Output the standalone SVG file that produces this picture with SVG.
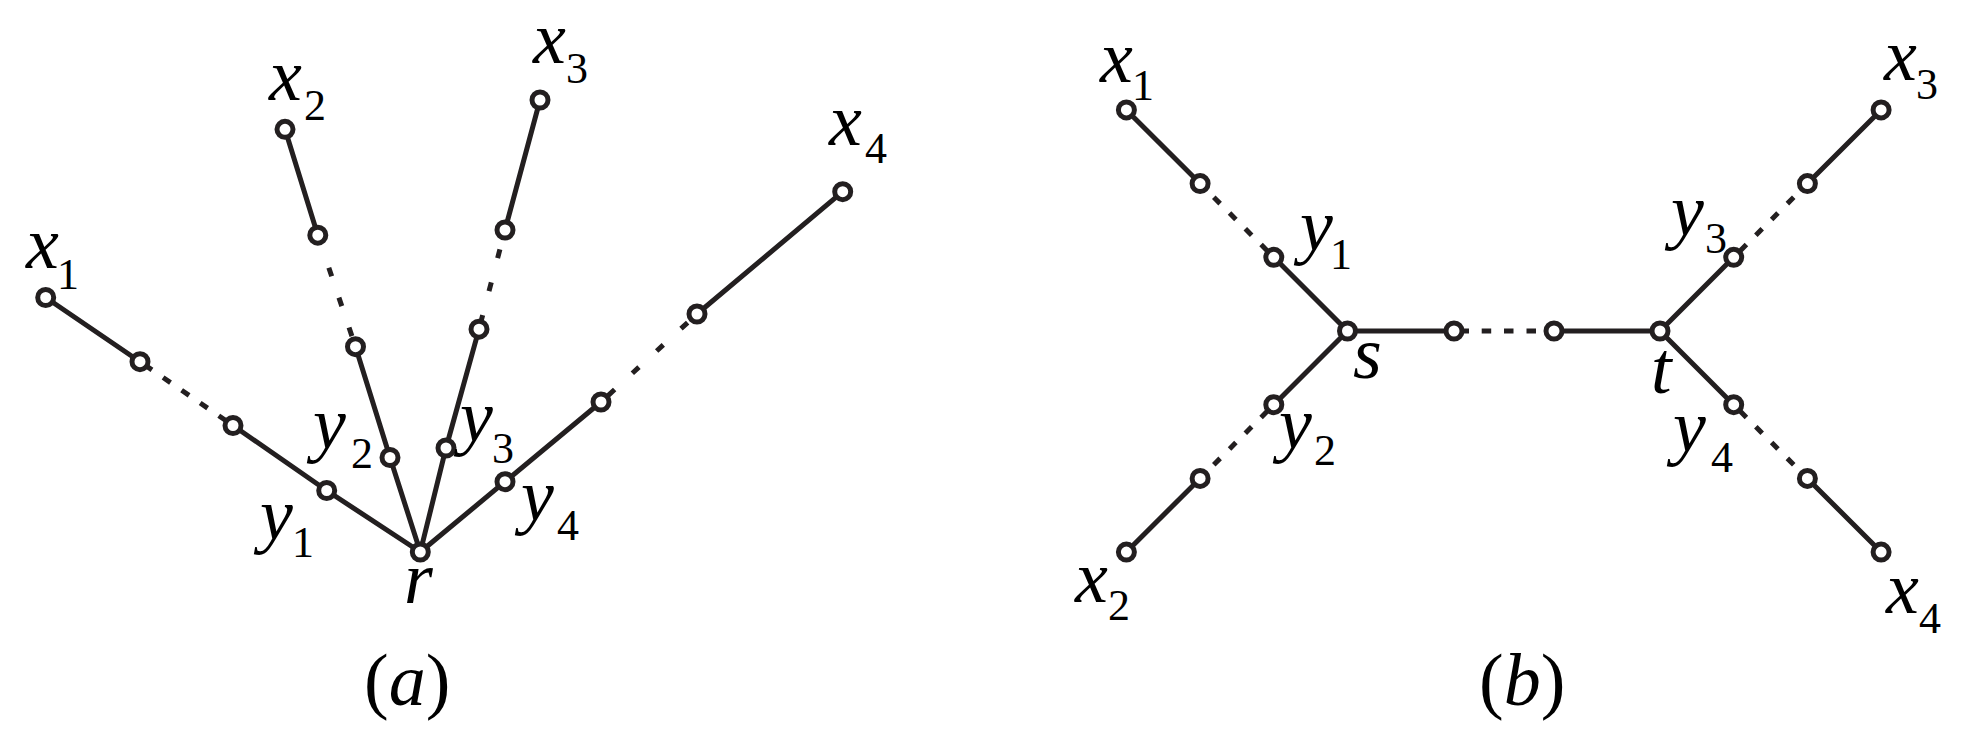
<svg xmlns="http://www.w3.org/2000/svg" width="1968" height="748" viewBox="0 0 1968 748">
<style>
.e{stroke:#231f20;stroke-width:5;fill:none;stroke-linecap:butt}
.n{fill:#fff;stroke:#231f20;stroke-width:5}
.t{font-family:"Liberation Serif","Times New Roman",serif;fill:#000;font-size:74px;font-style:italic}
.s{font-size:44px;font-style:normal}
.c{font-style:normal}
</style>
<rect width="1968" height="748" fill="#fff"/>
<g id="connectors">
<path class="e" d="M45.7,297.5L140,361.7M233,425.5L326.7,490.5L420.3,552M285,129.3L317.8,235.2M355.5,346.7L390,457.5L420.3,552M540,100L505,230M479,329.2L446,448L420.3,552M842.7,191.7L697,314M601,402L505,481.7L420.3,552"/>
<path class="e" d="M144.53,364.81L151.96,369.9M163.09,377.54L170.51,382.63M181.64,390.26L189.06,395.35M200.19,402.99L207.61,408.08M218.74,415.71L226.16,420.81"/>
<path class="e" d="M328.82,267.79L331.7,276.31M338.91,297.63L341.79,306.15M349.03,327.56L351.91,336.09"/>
<path class="e" d="M499.9,249.44L497.62,258.15M491.29,282.33L489,291.04M482.67,315.22L480.38,323.93"/>
<path class="e" d="M608,395.58L614.64,389.5M632.34,373.27L638.97,367.19M656.67,350.97L663.3,344.89M681,328.67L687.63,322.58"/>
<path class="e" d="M1126.4,109.9L1200.1,183.6M1273.8,257.3L1347.5,331L1273.8,404.7M1200.1,478.4L1126.4,552.1M1347.5,331L1454,331M1554,331L1660,331L1733.7,257.3M1807.4,183.6L1881.1,109.9M1660,331L1733.7,404.7M1807.4,478.4L1881.1,552.1"/>
<path class="e" d="M1267.44,250.94L1261.07,244.57M1251.67,235.17L1245.3,228.8M1235.9,219.4L1229.54,213.04M1220.13,203.63L1213.77,197.27"/>
<path class="e" d="M1267.44,411.06L1261.07,417.43M1251.67,426.83L1245.3,433.2M1235.9,442.6L1229.54,448.96M1220.13,458.37L1213.77,464.73"/>
<path class="e" d="M1740.06,250.94L1746.43,244.57M1755.83,235.17L1762.2,228.8M1771.6,219.4L1777.96,213.04M1787.37,203.63L1793.73,197.27"/>
<path class="e" d="M1740.06,411.06L1746.43,417.43M1755.83,426.83L1762.2,433.2M1771.6,442.6L1777.96,448.96M1787.37,458.37L1793.73,464.73"/>
<path class="e" d="M1459.5,331L1469,331M1481.7,331L1491.2,331M1504,331L1513.5,331M1526.5,331L1536,331"/>
</g>
<g id="a-x1"><circle class="n" cx="45.7" cy="297.5" r="8"/><text class="t" x="26" y="268">x<tspan class="s" x="57" y="289">1</tspan></text></g>
<g id="a-p1"><circle class="n" cx="140" cy="361.7" r="8"/></g>
<g id="a-p2"><circle class="n" cx="233" cy="425.5" r="8"/></g>
<g id="a-y1"><circle class="n" cx="326.7" cy="490.5" r="8"/><text class="t" x="260" y="539">y<tspan class="s" x="292" y="557">1</tspan></text></g>
<g id="a-x2"><circle class="n" cx="285" cy="129.3" r="8"/><text class="t" x="269" y="100">x<tspan class="s" x="304" y="120">2</tspan></text></g>
<g id="a-q1"><circle class="n" cx="317.8" cy="235.2" r="8"/></g>
<g id="a-q2"><circle class="n" cx="355.5" cy="346.7" r="8"/></g>
<g id="a-y2"><circle class="n" cx="390" cy="457.5" r="8"/><text class="t" x="313" y="448">y<tspan class="s" x="351" y="468">2</tspan></text></g>
<g id="a-x3"><circle class="n" cx="540" cy="100" r="8"/><text class="t" x="533" y="63">x<tspan class="s" x="566" y="83">3</tspan></text></g>
<g id="a-u1"><circle class="n" cx="505" cy="230" r="8"/></g>
<g id="a-u2"><circle class="n" cx="479" cy="329.2" r="8"/></g>
<g id="a-y3"><circle class="n" cx="446" cy="448" r="8"/><text class="t" x="460" y="441">y<tspan class="s" x="492" y="463">3</tspan></text></g>
<g id="a-x4"><circle class="n" cx="842.7" cy="191.7" r="8"/><text class="t" x="829" y="145">x<tspan class="s" x="865" y="163">4</tspan></text></g>
<g id="a-v1"><circle class="n" cx="697" cy="314" r="8"/></g>
<g id="a-v2"><circle class="n" cx="601" cy="402" r="8"/></g>
<g id="a-y4"><circle class="n" cx="505" cy="481.7" r="8"/><text class="t" x="521" y="520">y<tspan class="s" x="557" y="540">4</tspan></text></g>
<g id="a-r"><circle class="n" cx="420.3" cy="552" r="8"/><text class="t" x="404" y="603">r</text></g>
<g id="caption-a"><text class="t" x="364" y="705"><tspan class="c">(</tspan>a<tspan class="c">)</tspan></text></g>
<g id="b-x1"><circle class="n" cx="1126.4" cy="109.9" r="8"/><text class="t" x="1100" y="82">x<tspan class="s" x="1132" y="100">1</tspan></text></g>
<g id="b-p1"><circle class="n" cx="1200.1" cy="183.6" r="8"/></g>
<g id="b-y1"><circle class="n" cx="1273.8" cy="257.3" r="8"/><text class="t" x="1300" y="250">y<tspan class="s" x="1330" y="269">1</tspan></text></g>
<g id="b-s"><circle class="n" cx="1347.5" cy="331" r="8"/><text class="t" x="1353" y="378">s</text></g>
<g id="b-y2"><circle class="n" cx="1273.8" cy="404.7" r="8"/><text class="t" x="1279" y="448">y<tspan class="s" x="1314" y="465">2</tspan></text></g>
<g id="b-p2"><circle class="n" cx="1200.1" cy="478.4" r="8"/></g>
<g id="b-x2"><circle class="n" cx="1126.4" cy="552.1" r="8"/><text class="t" x="1075" y="602">x<tspan class="s" x="1108" y="620">2</tspan></text></g>
<g id="b-h1"><circle class="n" cx="1454" cy="331" r="8"/></g>
<g id="b-h2"><circle class="n" cx="1554" cy="331" r="8"/></g>
<g id="b-t"><circle class="n" cx="1660" cy="331" r="8"/><text class="t" x="1651" y="393">t</text></g>
<g id="b-y3"><circle class="n" cx="1733.7" cy="257.3" r="8"/><text class="t" x="1671" y="235">y<tspan class="s" x="1705" y="253">3</tspan></text></g>
<g id="b-p3"><circle class="n" cx="1807.4" cy="183.6" r="8"/></g>
<g id="b-x3"><circle class="n" cx="1881.1" cy="109.9" r="8"/><text class="t" x="1884" y="80">x<tspan class="s" x="1916" y="99">3</tspan></text></g>
<g id="b-y4"><circle class="n" cx="1733.7" cy="404.7" r="8"/><text class="t" x="1673" y="451">y<tspan class="s" x="1711" y="472">4</tspan></text></g>
<g id="b-p4"><circle class="n" cx="1807.4" cy="478.4" r="8"/></g>
<g id="b-x4"><circle class="n" cx="1881.1" cy="552.1" r="8"/><text class="t" x="1886" y="613">x<tspan class="s" x="1919" y="633">4</tspan></text></g>
<g id="caption-b"><text class="t" x="1479" y="705"><tspan class="c">(</tspan>b<tspan class="c">)</tspan></text></g>
</svg>
